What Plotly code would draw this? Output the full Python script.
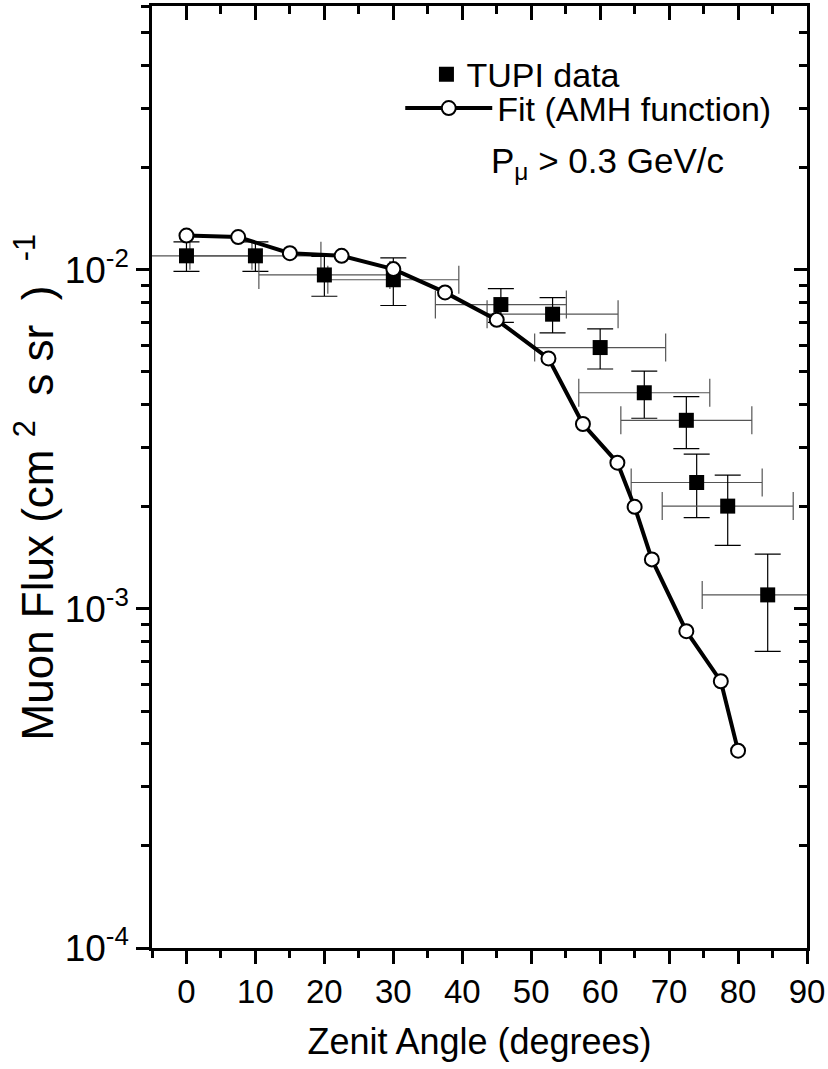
import numpy as np
import plotly.graph_objects as go

# ---- data ----
tupi_angle = [0, 10, 20, 30, 45.6, 53.1, 60.0, 66.4, 72.5, 74.0, 78.5, 84.3]
tupi_flux = [0.0110, 0.0110, 0.00966, 0.00935, 0.0079, 0.0074, 0.0059,
             0.00434, 0.0036, 0.00236, 0.00201, 0.00110]
tupi_flux_err = [0.0011, 0.0011, 0.0013, 0.0015, 0.0009, 0.00088, 0.0008,
                 0.00069, 0.00063, 0.0005, 0.00047, 0.00035]
tupi_angle_err = [9.5] * 12

fit_angle = [0, 7.5, 15, 22.5, 30, 37.5, 45, 52.5, 57.5, 62.5, 65, 67.5, 72.5, 77.5, 80]
fit_flux = [0.01262, 0.01249, 0.0112, 0.0110, 0.01005, 0.00858, 0.00712, 0.00548,
            0.00351, 0.00270, 0.00200, 0.00140, 0.00086, 0.000612, 0.000382]

x_ticks = [0, 10, 20, 30, 40, 50, 60, 70, 80, 90]
y_ticks = [1e-4, 1e-3, 1e-2]
y_tick_text = ["10<sup>-4</sup>", "10<sup>-3</sup>", "10<sup>-2</sup>"]

FONT = "Liberation Sans, Arial, sans-serif"
NB = "\u00a0"

fig = go.Figure()

fig.add_trace(go.Scatter(
    x=tupi_angle, y=tupi_flux, mode="markers", name="TUPI data",
    marker=dict(symbol="square", size=15, color="black"),
    error_y=dict(type="data", array=tupi_flux_err, color="black", thickness=1.2, width=13),
    error_x=dict(type="data", array=tupi_angle_err, color="#555555", thickness=1.2, width=14),
    legend="legend",
))

fig.add_trace(go.Scatter(
    x=fit_angle, y=fit_flux, mode="lines+markers", name="Fit (AMH function)",
    line=dict(color="black", width=4),
    marker=dict(symbol="circle", size=14, color="white", line=dict(color="black", width=2)),
    legend="legend2",
))

# invisible trace so the mirrored (top/right) axes are drawn
fig.add_trace(go.Scatter(x=[None], y=[None], xaxis="x2", yaxis="y2",
                         showlegend=False, hoverinfo="skip"))

yrange = [-4, float(np.log10(0.06))]
xrange_ = [-5, 90]

common_axis = dict(showgrid=False, zeroline=False, showline=True, linecolor="black",
                   linewidth=2.5, tickcolor="black", tickwidth=2.5, automargin=False)

ytitle = ("Muon Flux (cm" + NB + "<sup>2</sup>" + NB * 2 + "s sr" + NB * 2 + ")" + NB * 2
          + "<sup>-1</sup>")

fig.update_layout(
    width=828, height=1069,
    margin=dict(l=152, r=21, t=6, b=121),
    paper_bgcolor="white", plot_bgcolor="white",
    font=dict(family=FONT, color="black"),
    xaxis=dict(**common_axis, range=xrange_, tickvals=x_ticks, ticks="outside", ticklen=13,
               tickfont=dict(size=33),
               minor=dict(dtick=5, tick0=0, ticks="outside", ticklen=7, tickwidth=2.5, tickcolor="black"),
               title=dict(text="Zenit Angle (degrees)", font=dict(size=36), standoff=20)),
    xaxis2=dict(**common_axis, range=xrange_, overlaying="x", side="top", anchor="y",
                tickvals=x_ticks, ticks="inside", ticklen=14, showticklabels=False,
                minor=dict(dtick=5, tick0=0, ticks="inside", ticklen=8, tickwidth=2.5, tickcolor="black")),
    yaxis=dict(**common_axis, type="log", range=yrange, tickvals=y_ticks, ticktext=y_tick_text,
               ticks="outside", ticklen=13, tickfont=dict(size=37),
               minor=dict(dtick="D1", ticks="outside", ticklen=8, tickwidth=2.5, tickcolor="black")),
    yaxis2=dict(**common_axis, type="log", range=yrange, overlaying="y", side="right", anchor="x",
                tickvals=y_ticks, ticks="inside", ticklen=13, showticklabels=False,
                minor=dict(dtick="D1", ticks="inside", ticklen=8, tickwidth=2.5, tickcolor="black")),
    legend=dict(x=0.419, y=0.958, xanchor="left", yanchor="top", font=dict(size=34),
                bgcolor="rgba(0,0,0,0)", borderwidth=0, itemwidth=30),
    legend2=dict(x=0.379, y=0.922, xanchor="left", yanchor="top", font=dict(size=34),
                 bgcolor="rgba(0,0,0,0)", borderwidth=0, itemwidth=87),
    showlegend=True,
    annotations=[
        dict(text="P<sub>μ</sub> &gt; 0.3 GeV/c", xref="paper", yref="paper",
             x=0.5145, y=0.833, xanchor="left", yanchor="middle",
             showarrow=False, font=dict(size=35, family=FONT, color="black")),
        dict(text=ytitle, xref="paper", yref="paper", x=-0.135, y=0.489,
             xanchor="right", yanchor="middle", textangle=-90, showarrow=False,
             font=dict(size=44, family=FONT, color="black")),
    ],
)

fig.write_html("out.html", config={"displayModeBar": False},
               post_script="document.body.style.margin='0';")
